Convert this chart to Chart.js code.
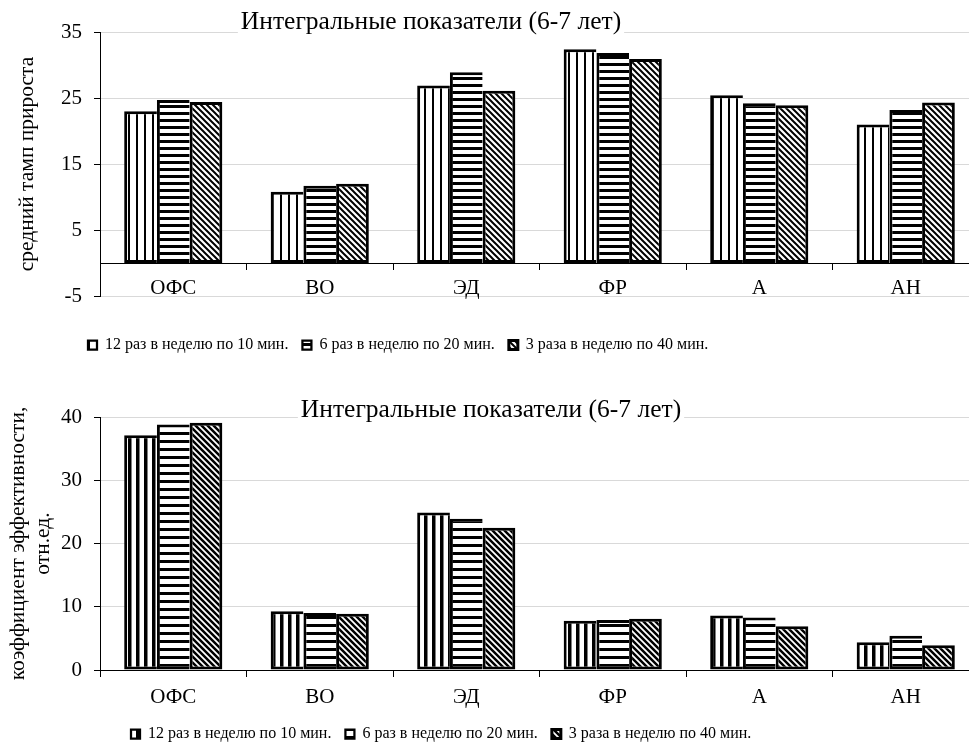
<!DOCTYPE html>
<html>
<head>
<meta charset="utf-8">
<script src="https://cdn.jsdelivr.net/npm/chart.js@4.4.1/dist/chart.umd.min.js"></script>
<style>
  html, body { margin: 0; padding: 0; background: #fff; overflow: hidden; }
  canvas { position: absolute; left: 0; }
  #growthChart { top: 0; }
  #effChart { top: 368px; }
</style>
</head>
<body>
<canvas id="growthChart" width="990" height="368"></canvas>
<canvas id="effChart" width="990" height="381"></canvas>
<script>
const categories = ['ОФС', 'ВО', 'ЭД', 'ФР', 'А', 'АН'];
const seriesNames = ['12 раз в неделю по 10 мин.', '6 раз в неделю по 20 мин.', '3 раза в неделю по 40 мин.'];
const chartTitle = 'Интегральные показатели (6-7 лет)';

// top chart: средний темп прироста
const growth12 = [23.0, 10.8, 26.9, 32.4, 25.4, 21.0];
const growth6 = [24.7, 11.7, 28.9, 31.8, 24.2, 23.2];
const growth3 = [24.4, 12.0, 26.1, 30.9, 23.9, 24.3];

// bottom chart: коэффициент эффективности
const eff12 = [37.1, 9.3, 24.9, 7.8, 8.6, 4.4];
const eff6 = [38.8, 9.0, 23.9, 7.9, 8.3, 5.4];
const eff3 = [39.1, 8.9, 22.5, 8.1, 6.9, 3.9];

const serif = "'Liberation Serif', 'Times New Roman', serif";
Chart.defaults.font.family = serif;
Chart.defaults.color = '#000';

function makePattern(w, h, draw) {
    const tile = document.createElement('canvas');
    tile.width = w;
    tile.height = h;
    const g = tile.getContext('2d');
    g.fillStyle = '#fff';
    g.fillRect(0, 0, w, h);
    g.fillStyle = '#000';
    g.strokeStyle = '#000';
    draw(g, w, h);
    return g.createPattern(tile, 'repeat');
}

function vertical(period, lw) {
    return makePattern(period, period, (g, w, h) => g.fillRect(0, 0, lw, h));
}

function horizontal(period, lw) {
    return makePattern(period, period, (g, w, h) => g.fillRect(0, 0, w, lw));
}

function diagonal(s, lw) {
    return makePattern(s, s, (g) => {
        g.lineWidth = lw;
        g.beginPath();
        for (let k = -1; k <= 1; k++) {
            g.moveTo(k * s - 1, -1);
            g.lineTo(k * s + s + 1, s + 1);
        }
        g.stroke();
    });
}

const innerBorder = {left: 3, top: 3, bottom: 3, right: 0};

function makeDatasets(values, fills) {
    return values.map((v, i) => ({
        label: seriesNames[i],
        data: v,
        backgroundColor: fills[i],
        borderColor: '#000',
        borderWidth: i < 2 ? innerBorder : 3,
        borderSkipped: false,
        categoryPercentage: 0.67,
        barPercentage: 1.0
    }));
}

// title drawn over the plot with a white box behind it, like the original
const boxTitle = {
    id: 'boxTitle',
    afterDraw(chart, args, opts) {
        const ctx = chart.ctx;
        ctx.save();
        ctx.font = opts.size + 'px ' + serif;
        const w = ctx.measureText(opts.text).width;
        ctx.fillStyle = '#fff';
        ctx.fillRect(opts.x - w / 2 - 3, opts.y - opts.size / 2 - 1, w + 6, opts.size + 2);
        ctx.fillStyle = '#000';
        ctx.textAlign = 'center';
        ctx.textBaseline = 'middle';
        ctx.fillText(opts.text, opts.x, opts.y);
        ctx.restore();
    }
};

// move the legend to where it sits in the source picture
const placeLegend = {
    id: 'placeLegend',
    afterLayout(chart, args, opts) {
        const lg = chart.legend;
        const w = lg.right - lg.left;
        const h = lg.bottom - lg.top;
        lg.left = opts.left;
        lg.right = opts.left + w;
        lg.top = opts.top;
        lg.bottom = opts.top + h;
    }
};

function buildChart(id, cfg) {
    new Chart(document.getElementById(id), {
        type: 'bar',
        data: {
            labels: categories,
            datasets: makeDatasets(cfg.values, cfg.fills)
        },
        plugins: [boxTitle, placeLegend],
        options: {
            responsive: false,
            animation: false,
            layout: {padding: cfg.padding},
            scales: {
                x: {
                    position: {y: 0},
                    grid: {drawOnChartArea: false, tickLength: 6, tickColor: '#000'},
                    border: {color: '#000', width: 1},
                    ticks: {font: {size: 21}, padding: cfg.xPad, color: '#000'}
                },
                y: {
                    min: cfg.min,
                    max: cfg.max,
                    ticks: {stepSize: 10, font: {size: 21}, padding: 12, color: '#000'},
                    grid: {color: '#d9d9d9', tickLength: 6, tickColor: '#000'},
                    border: {color: '#000', width: 1},
                    title: {
                        display: true,
                        text: cfg.yTitle,
                        font: {size: 21.5, lineHeight: 1.15},
                        padding: {top: cfg.yTitlePad, bottom: 0}
                    },
                    afterFit: (scale) => { scale.width = 100; }
                }
            },
            plugins: {
                legend: {
                    position: 'bottom',
                    align: 'start',
                    labels: {
                        boxWidth: 9,
                        boxHeight: 9,
                        padding: 14,
                        font: {size: 16},
                        color: '#000'
                    }
                },
                tooltip: {enabled: false},
                boxTitle: {text: chartTitle, x: cfg.titleX, y: cfg.titleY, size: 25.5},
                placeLegend: cfg.legendAt
            }
        }
    });
}

buildChart('growthChart', {
    values: [growth12, growth6, growth3],
    fills: [vertical(8, 2), horizontal(7, 3), diagonal(6, 2)],
    min: -5,
    max: 35,
    yTitle: 'средний тамп прироста',
    yTitlePad: 15,
    padding: {top: 32, right: 11, bottom: 32, left: 0},
    xPad: 7,
    titleX: 431,
    titleY: 22,
    legendAt: {left: 74, top: 323}
});

buildChart('effChart', {
    values: [eff12, eff6, eff3],
    fills: [vertical(8, 3.5), horizontal(8, 3), diagonal(6, 2.5)],
    min: 0,
    max: 40,
    yTitle: ['коэффициент эффективности,', 'отн.ед.'],
    yTitlePad: 6,
    padding: {top: 49, right: 11, bottom: 39, left: 0},
    xPad: 9,
    titleX: 491,
    titleY: 42,
    legendAt: {left: 117, top: 344}
});
</script>
</body>
</html>
